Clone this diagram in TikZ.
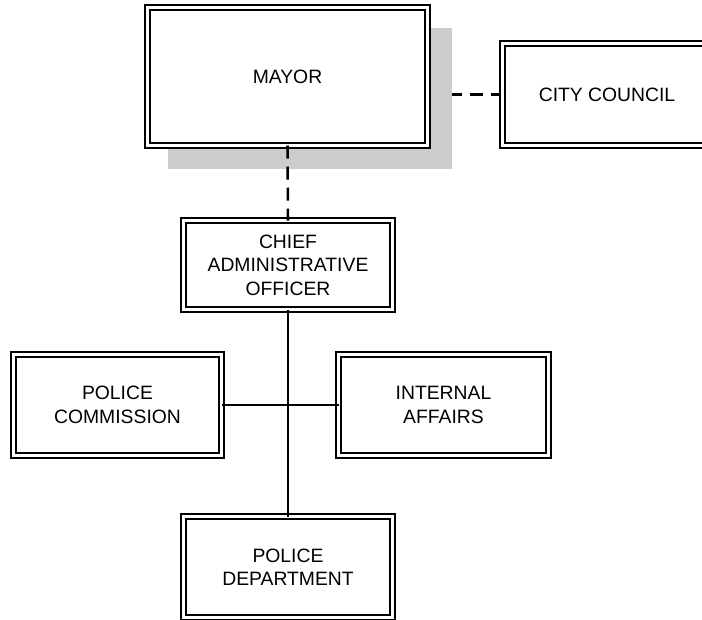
\documentclass[tikz,border=0pt]{standalone}
\usepackage{fontspec}
\setmainfont{Liberation Sans}
\usetikzlibrary{backgrounds}

\begin{document}
\begin{tikzpicture}[x=0.75pt,y=-0.75pt,
  unit/.style={draw,double,line width=1.4pt,double distance=1.8pt,fill=white,
    align=center,inner sep=0pt,outer sep=0pt,font=\fontsize{14.5}{17.6}\selectfont},
  link/.style={line width=1.3pt},
  dashlink/.style={line width=1.9pt,dash pattern=on 9.75pt off 6pt}]
  \useasboundingbox (0,0) rectangle (702,619);
  \clip (0,0) rectangle (702,619);
  \node[unit,minimum width=210pt,minimum height=103.5pt] (mayor) at (287.5,76.5) {MAYOR};
  \node[unit,minimum width=156.75pt,minimum height=76.5pt] (council) at (607,94.5) {CITY COUNCIL};
  \node[unit,minimum width=156.75pt,minimum height=66.75pt] (cao) at (288,265) {CHIEF\\ADMINISTRATIVE\\OFFICER};
  \node[unit,minimum width=156pt,minimum height=75.75pt] (commission) at (117.5,405) {POLICE\\COMMISSION};
  \node[unit,minimum width=157.5pt,minimum height=75.75pt] (affairs) at (443.5,405) {INTERNAL\\AFFAIRS};
  \node[unit,minimum width=156.75pt,minimum height=75.75pt] (dept) at (288,567) {POLICE\\DEPARTMENT};
  \begin{pgfonlayer}{background}
    \draw[dashlink] (mayor.east |- council.west) -- (council.west);
    \fill[black!20] ([shift={(20,20)}]mayor.north west) rectangle ([shift={(24,23)}]mayor.south east);
  \end{pgfonlayer}
  \draw[dashlink] (mayor.south) -- (cao.north);
  \draw[link] (cao.south) -- (dept.north);
  \draw[link] (commission.east) -- (affairs.west);
\end{tikzpicture}
\end{document}
